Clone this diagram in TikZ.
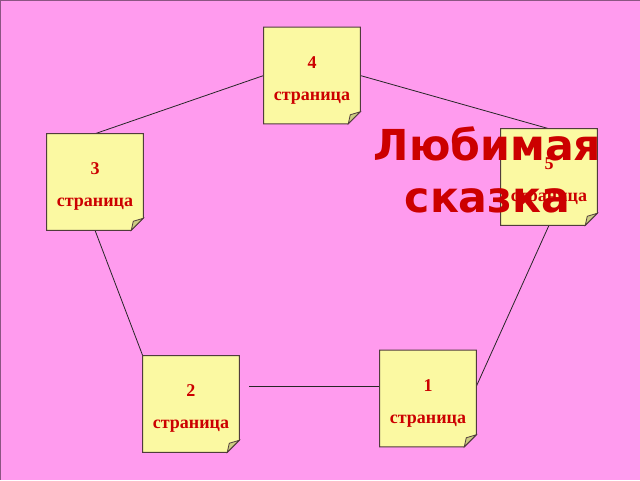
\documentclass[tikz,border=0pt]{standalone}
\usepackage{fontspec}
\setmainfont{Liberation Serif}
\newfontfamily\titlefont{DejaVu Sans}
\usetikzlibrary{backgrounds}
\definecolor{bgpink}{RGB}{255,155,238}
\definecolor{noteyellow}{RGB}{251,249,162}
\definecolor{notefold}{RGB}{204,204,128}
\definecolor{noteline}{RGB}{80,60,60}
\definecolor{textred}{RGB}{204,0,0}

\begin{document}
\begin{tikzpicture}[line cap=round,line join=round,x=0.75pt,y=-0.75pt,
    note/.style={minimum width=72pt,minimum height=72pt,inner sep=0pt,align=center,
      text=textred,font=\fontsize{13.5}{24}\selectfont\bfseries,
      text height=37pt,text depth=0pt},
    link/.style={draw=black!85,line width=0.6pt}]
      \useasboundingbox (0,0) rectangle (640,480);

      \node[note] (n4) at (312,75.5) {4\\страница};
      \node[note] (n3) at (95,182) {3\\страница};
      \node[note] (n5) at (549,177) {5\\страница};
      \node[note] (n2) at (191,404) {2\\страница};
      \node[note] (n1) at (428,398.5) {1\\страница};
      \coordinate (gap) at ([xshift=7.5pt]n2.east);

      \begin{scope}[on background layer]
        \fill[bgpink] (0,0) rectangle (640,480);
        \draw[bgpink!55!black,line width=1.5pt] (0,480) -- (0,0) -- (640,0);

        \draw[link] (n4.west) -- (n3.north);
        \draw[link] (n4.east) -- (n5.north);
        \draw[link] (n3.south) -- (n2.north west);
        \draw[link] (gap |- n1.166) -- (n1.166);
        \draw[link] (n1.14) -- (n5.south);

        \foreach \n in {n1,n2,n3,n4,n5}{
          \filldraw[fill=noteyellow,draw=noteline,line width=0.75pt]
            (\n.north west) -- (\n.north east) -- ([yshift=9pt]\n.south east) --
            ([xshift=-9pt]\n.south east) -- (\n.south west) -- cycle;
          \filldraw[fill=notefold,draw=noteline,line width=0.6pt]
            ([yshift=9pt]\n.south east) -- ([xshift=-7.5pt,yshift=6.75pt]\n.south east) --
            ([xshift=-9pt]\n.south east) -- cycle;
        }
      \end{scope}

      \node[text=textred,font=\titlefont\fontsize{32}{39}\selectfont\bfseries,align=center]
        (title) at (487.5,170) {Любимая\\сказка};
    \end{tikzpicture}
\end{document}
